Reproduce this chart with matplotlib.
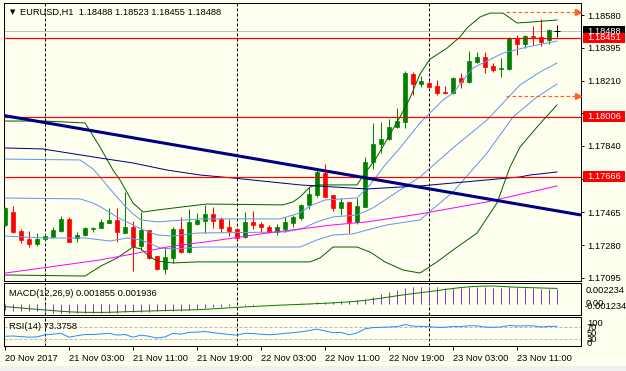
import numpy as np
import matplotlib
matplotlib.use("Agg")
import matplotlib.pyplot as plt
import matplotlib.transforms as mtransforms
from matplotlib.patches import Rectangle

# ---- candles (bar index 0 = 20 Nov 19:00, H1) ----
opens = [1.17394, 1.17467, 1.17360, 1.17315, 1.17286, 1.17315, 1.17326, 1.17360, 1.17428, 1.17320,
         1.17337, 1.17371, 1.17377, 1.17405, 1.17422, 1.17348, 1.17382, 1.17275, 1.17365, 1.17218,
         1.17145, 1.17207, 1.17371, 1.17241, 1.17399, 1.17416, 1.17456, 1.17428, 1.17382, 1.17371,
         1.17326, 1.17411, 1.17399, 1.17382, 1.17354, 1.17371, 1.17405, 1.17433, 1.17507, 1.17563,
         1.17687, 1.17563, 1.17490, 1.17524, 1.17411, 1.17496, 1.17748, 1.17850, 1.17879, 1.17947,
         1.17976, 1.18247, 1.18191, 1.18197, 1.18180, 1.18146, 1.18140, 1.18225, 1.18202, 1.18315,
         1.18343, 1.18292, 1.18275, 1.18275, 1.18444, 1.18416, 1.18461, 1.18456, 1.18439, 1.18488]
highs = [1.17496, 1.17501, 1.17371, 1.17360, 1.17348, 1.17348, 1.17382, 1.17445, 1.17439, 1.17354,
         1.17382, 1.17382, 1.17428, 1.17490, 1.17490, 1.17580, 1.17416, 1.17467, 1.17365, 1.17218,
         1.17269, 1.17382, 1.17439, 1.17485, 1.17462, 1.17507, 1.17496, 1.17439, 1.17428, 1.17371,
         1.17467, 1.17473, 1.17411, 1.17394, 1.17399, 1.17439, 1.17450, 1.17512, 1.17608, 1.17714,
         1.17736, 1.17563, 1.17546, 1.17524, 1.17546, 1.17778, 1.17970, 1.17976, 1.17992, 1.18055,
         1.18264, 1.18258, 1.18236, 1.18208, 1.18213, 1.18180, 1.18230, 1.18253, 1.18377, 1.18371,
         1.18371, 1.18309, 1.18337, 1.18456, 1.18467, 1.18467, 1.18518, 1.18557, 1.18501, 1.18523]
lows = [1.17388, 1.17348, 1.17292, 1.17269, 1.17275, 1.17309, 1.17326, 1.17354, 1.17298, 1.17298,
        1.17331, 1.17354, 1.17377, 1.17405, 1.17298, 1.17348, 1.17133, 1.17252, 1.17201, 1.17139,
        1.17116, 1.17179, 1.17235, 1.17235, 1.17394, 1.17348, 1.17377, 1.17354, 1.17331, 1.17315,
        1.17320, 1.17371, 1.17354, 1.17348, 1.17337, 1.17354, 1.17382, 1.17422, 1.17485, 1.17552,
        1.17552, 1.17473, 1.17450, 1.17348, 1.17399, 1.17496, 1.17708, 1.17799, 1.17873, 1.17941,
        1.17941, 1.18129, 1.18174, 1.18174, 1.18129, 1.18135, 1.18135, 1.18168, 1.18197, 1.18309,
        1.18253, 1.18258, 1.18230, 1.18269, 1.18354, 1.18393, 1.18410, 1.18405, 1.18416, 1.18455]
closes = [1.17490, 1.17354, 1.17309, 1.17286, 1.17315, 1.17331, 1.17365, 1.17428, 1.17298, 1.17337,
          1.17377, 1.17377, 1.17411, 1.17422, 1.17354, 1.17382, 1.17275, 1.17365, 1.17207, 1.17145,
          1.17213, 1.17371, 1.17241, 1.17411, 1.17422, 1.17456, 1.17416, 1.17377, 1.17360, 1.17320,
          1.17411, 1.17394, 1.17382, 1.17354, 1.17382, 1.17411, 1.17439, 1.17507, 1.17568, 1.17693,
          1.17552, 1.17490, 1.17524, 1.17411, 1.17501, 1.17752, 1.17850, 1.17879, 1.17947, 1.17981,
          1.18253, 1.18191, 1.18208, 1.18174, 1.18140, 1.18140, 1.18225, 1.18202, 1.18320, 1.18343,
          1.18286, 1.18269, 1.18281, 1.18450, 1.18416, 1.18461, 1.18456, 1.18427, 1.18495, 1.18488]

# ---- indicator lines (bar position, price) ----
bb_up2_x = [0, 5, 10, 11.875, 13.5, 14.375, 16, 17.25, 19, 22.25, 25.25, 34.75, 36, 36.875, 38.125, 39,
            44, 45, 46.25, 47.5, 49.375, 50.625, 51.875, 53.125, 55.25, 56.875, 57.75, 59.375, 60.625,
            62.25, 64, 65.625, 69]
bb_up2_p = [1.17981, 1.17981, 1.17970, 1.17834, 1.17704, 1.17648, 1.17518, 1.17467, 1.17478, 1.17496,
            1.17512, 1.17507, 1.17524, 1.17552, 1.17608, 1.17620, 1.17620, 1.17687, 1.17761, 1.17857,
            1.18004, 1.18111, 1.18247, 1.18331, 1.18393, 1.18456, 1.18507, 1.18569, 1.18591, 1.18591,
            1.18535, 1.18540, 1.18552]
bb_lo2_x = [0, 10, 12, 14, 16, 17, 18, 19, 21, 24, 38.125, 39.375, 41, 44, 45.625, 47.5, 49.75, 51.875,
            54, 56, 59, 61.5, 63.125, 64.375, 66.5, 69]
bb_lo2_p = [1.17111, 1.17105, 1.17162, 1.17207, 1.17269, 1.17258, 1.17218, 1.17190, 1.17179, 1.17185,
            1.17185, 1.17207, 1.17269, 1.17269, 1.17241, 1.17185, 1.17139, 1.17122, 1.17185, 1.17252,
            1.17348, 1.17518, 1.17721, 1.17834, 1.17947, 1.18072]
bb_up1_x = [0, 9.375, 11, 12, 13, 14, 15, 16, 17, 19, 24.375, 34.375, 36.875, 38.125, 40, 44, 45.625,
            47.5, 49.375, 51.875, 54.75, 56, 58.5, 62.25, 65.25, 69]
bb_up1_p = [1.17766, 1.17761, 1.17710, 1.17659, 1.17603, 1.17552, 1.17501, 1.17456, 1.17422, 1.17411,
            1.17428, 1.17428, 1.17462, 1.17501, 1.17535, 1.17546, 1.17620, 1.17732, 1.17829, 1.17970,
            1.18100, 1.18139, 1.18281, 1.18365, 1.18399, 1.18433]
bb_mid_x = [0, 9.375, 11, 12, 13, 14, 15, 16, 17, 18, 19, 21, 24, 35, 37, 39, 41, 44, 46, 49.375,
            51.875, 56, 60.25, 64.375, 66.875, 69]
bb_mid_p = [1.17546, 1.17541, 1.17518, 1.17495, 1.17467, 1.17439, 1.17416, 1.17394, 1.17371, 1.17354,
            1.17337, 1.17331, 1.17348, 1.17354, 1.17371, 1.17411, 1.17439, 1.17450, 1.17490, 1.17591,
            1.17665, 1.17829, 1.17987, 1.18185, 1.18258, 1.18309]
bb_lo1_x = [0, 5, 10, 13.125, 15.25, 17, 19.375, 21, 24.375, 36.875, 39, 41, 43.5, 45.25, 47.75,
            51.875, 56, 60.25, 63.5, 66.5, 69]
bb_lo1_p = [1.17331, 1.17320, 1.17320, 1.17303, 1.17320, 1.17309, 1.17264, 1.17258, 1.17269, 1.17269,
            1.17309, 1.17337, 1.17343, 1.17365, 1.17394, 1.17422, 1.17580, 1.17800, 1.18004, 1.18117,
            1.18190]
ma_navy_x = [0, 4.75, 11.875, 16, 20.25, 24.375, 28.5, 36.875, 45.25, 49.375, 51.875, 64.375, 65.625, 69]
ma_navy_p = [1.17829, 1.17823, 1.17772, 1.17744, 1.17704, 1.17676, 1.17659, 1.17620, 1.17597, 1.17608,
             1.17614, 1.17665, 1.17676, 1.17693]
ma_mag_x = [0, 4.75, 11.875, 16, 20.25, 26.875, 32.75, 36.875, 41, 45.25, 51.875, 60.25, 69]
ma_mag_p = [1.17122, 1.17151, 1.17196, 1.17230, 1.17269, 1.17309, 1.17348, 1.17371, 1.17394, 1.17411,
            1.17456, 1.17524, 1.17614]

# drawn objects
trend_x = [-0.125, 72.0]
trend_p = [1.18012, 1.17450]
red_levels = [1.18451, 1.18006, 1.17666]
bid_price = 1.18488
arrow_levels = [1.18597, 1.18124]
arrow_x = [62.6, 71.4]
separators = [5, 29, 53]

# ---- sub-windows ----
macd_main = [-0.00080, -0.00082, -0.00083, -0.00084, -0.00086, -0.00095, -0.00110, -0.00114, -0.00116, -0.00117,
             -0.00117, -0.00116, -0.00114, -0.00110, -0.00106, -0.00104, -0.00103, -0.00102, -0.00100, -0.00092,
             -0.00088, -0.00085, -0.00083, -0.00078, -0.00060, -0.00055, -0.00040, -0.00035, -0.00030, -0.00015,
             -0.00010, -0.00008, -0.00006, -0.00004, -0.00002, 0.00001, 0.00004, 0.00010, 0.00017, 0.00025,
             0.00028, 0.00029, 0.00033, 0.00038, 0.00045, 0.00065, 0.00090, 0.00120, 0.00150, 0.00170,
             0.00200, 0.00210, 0.00212, 0.00212, 0.00208, 0.00203, 0.00203, 0.00200, 0.00205, 0.00210,
             0.00205, 0.00200, 0.00196, 0.00205, 0.00200, 0.00198, 0.00195, 0.00188, 0.00188, 0.001855]
macd_signal = [-0.00033, -0.00040, -0.00050, -0.00058, -0.00066, -0.00074, -0.00082, -0.00090, -0.00097, -0.00101,
               -0.00103, -0.00104, -0.00104, -0.00103, -0.00100, -0.00096, -0.00093, -0.00090, -0.00087, -0.00084,
               -0.00081, -0.00078, -0.00076, -0.00074, -0.00071, -0.00066, -0.00060, -0.00054, -0.00048, -0.00042,
               -0.00036, -0.00031, -0.00026, -0.00021, -0.00016, -0.00012, -0.00008, -0.00004, 0.00000, 0.00005,
               0.00009, 0.00014, 0.00020, 0.00027, 0.00035, 0.00045, 0.00058, 0.00072, 0.00087, 0.00102,
               0.00116, 0.00129, 0.00141, 0.00153, 0.00166, 0.00180, 0.00193, 0.00204, 0.00213, 0.00219,
               0.00223, 0.00223, 0.00219, 0.00213, 0.00208, 0.00205, 0.00202, 0.00199, 0.00196, 0.001936]
rsi = [40, 41, 39, 37, 38, 45, 47, 50, 37, 42, 46, 46, 48, 50, 44, 46, 37, 44, 40, 34,
       38, 50, 47, 53, 54, 56, 52, 49, 46, 44, 50, 49, 47, 45, 47, 50, 52, 55, 59, 64,
       58, 52, 53, 45, 51, 65, 69, 70, 71, 72, 79, 74, 73, 72, 70, 70, 73, 72, 75, 75,
       71, 70, 71, 76, 74, 75, 75, 71, 73, 73.3758]

# 1.18025 sits under the 1.18006 box, so only its tick mark shows
price_ticks = [1.18580, 1.18395, 1.18210, 1.18025, 1.17840, 1.17655, 1.17465, 1.17280, 1.17095]
price_labels = ['1.18580', '1.18395', '1.18210', '', '1.17840', '1.17655', '1.17465', '1.17280', '1.17095']
time_ticks = [0, 8, 16, 24, 32, 40, 48, 56, 64]
time_labels = ["20 Nov 2017", "21 Nov 03:00", "21 Nov 11:00", "21 Nov 19:00", "22 Nov 03:00",
               "22 Nov 11:00", "22 Nov 19:00", "23 Nov 03:00", "23 Nov 11:00"]

BG = '#FFFFF0'
GREEN = '#008000'
RED = '#FF0000'
BLUE = '#6495ED'
NAVY = '#000080'
FS = 6.7
PX = 0.72  # one pixel in points

W, H = 626, 371
plt.rcParams['font.family'] = ['Liberation Sans', 'DejaVu Sans']
fig = plt.figure(figsize=(W / 100, H / 100), dpi=100)
fig.patch.set_facecolor(BG)


def px_axes(x0, y0, x1, y1):
    a = fig.add_axes([x0 / W, 1 - y1 / H, (x1 - x0) / W, (y1 - y0) / H])
    a.set_facecolor(BG)
    for s in a.spines.values():
        s.set_linewidth(PX)
        s.set_color('black')
    a.set_xlim(-0.125, 72)
    return a


ax = px_axes(4, 3, 581, 281)
ax_macd = px_axes(4, 283, 581, 315)
ax_rsi = px_axes(4, 317, 581, 346)

# ---- main chart ----
ax.set_ylim(1.17077, 1.18648)
o, h, l, c = map(np.array, (opens, highs, lows, closes))
idx = np.arange(len(c))
bottoms = np.minimum(o, c)
heights = np.maximum(np.abs(c - o), 0.00003)
for mask, col in ((c > o, GREEN), (c < o, RED)):
    ax.vlines(idx[mask], l[mask], h[mask], color=col, lw=PX, zorder=3)
    ax.bar(idx[mask], heights[mask], bottom=bottoms[mask], width=0.55, color=col,
           edgecolor=col, lw=0.5, zorder=3)
flat = c == o
ax.vlines(idx[flat], l[flat], h[flat], color='black', lw=PX, zorder=3)
ax.hlines(c[flat], idx[flat] - 0.35, idx[flat] + 0.35, color='black', lw=PX, zorder=3)

for sx in separators:
    for a in (ax, ax_macd, ax_rsi):
        a.axvline(sx, color='black', lw=PX, ls=(0, (3, 2)), zorder=1)

ax.plot(bb_up2_x, bb_up2_p, color='#006400', lw=PX, zorder=4)
ax.plot(bb_lo2_x, bb_lo2_p, color='#006400', lw=PX, zorder=4)
ax.plot(bb_up1_x, bb_up1_p, color=BLUE, lw=PX, zorder=4)
ax.plot(bb_mid_x, bb_mid_p, color=BLUE, lw=PX, zorder=4)
ax.plot(bb_lo1_x, bb_lo1_p, color=BLUE, lw=PX, zorder=4)
ax.plot(ma_navy_x, ma_navy_p, color=NAVY, lw=PX, zorder=4)
ax.plot(ma_mag_x, ma_mag_p, color='#FF00FF', lw=PX, zorder=4)

ax.axhline(bid_price, color='#C0C0C0', lw=PX, zorder=2)
for lv in red_levels:
    ax.axhline(lv, color=RED, lw=PX * 1.2, zorder=5)
ax.plot(trend_x, trend_p, color=NAVY, lw=2.2, zorder=5, solid_capstyle='butt')
for lv in arrow_levels:
    ax.plot(arrow_x, [lv, lv], color='#FF6020', lw=PX * 1.2, ls=(0, (3, 2)), zorder=5)
    ax.plot([arrow_x[1] + 0.25], [lv], marker='>', ms=4.5, color='#FF6020', mec='#FF6020', zorder=5,
            clip_on=False)

ax.set_xticks([])
ax.yaxis.tick_right()
ax.set_yticks(price_ticks)
ax.set_yticklabels(price_labels)
ax.tick_params(axis='y', length=2.2, width=PX, pad=2.6, labelsize=FS, direction='out')

# price label boxes on the right scale
bt = mtransforms.blended_transform_factory(ax.transAxes, ax.transData)
box_w = 42 / 577
box_h = 0.00060
for price, col in ((bid_price, 'black'), (1.18451, RED), (1.18006, RED), (1.17666, RED)):
    ax.add_patch(Rectangle((1.0035, price - box_h / 2), box_w, box_h, transform=bt,
                           facecolor=col, edgecolor='none', clip_on=False, zorder=10))
    ax.text(1.0035 + 4 / 577, price, '%.5f' % price, transform=bt, color='white', fontsize=FS,
            va='center', ha='left', clip_on=False, zorder=11)

fig.text(10 / W, 1 - 12.5 / H, '\u25bc', fontsize=5, family='DejaVu Sans', va='center', ha='left')
fig.text(20 / W, 1 - 12.5 / H, 'EURUSD,H1  1.18488 1.18523 1.18455 1.18488', fontsize=FS,
         va='center', ha='left')

# ---- MACD ----
ax_macd.set_ylim(-0.001365, 0.002606)
ax_macd.vlines(idx, 0, macd_main, color='#9932CC', lw=PX, zorder=3)
ax_macd.plot(idx, macd_signal, color=GREEN, lw=PX, zorder=4)
ax_macd.set_xticks([])
ax_macd.set_yticks([])
fig.text(9 / W, 1 - 293 / H, 'MACD(12,26,9) 0.001855 0.001936', fontsize=FS, va='center', ha='left')
fig.text(586 / W, 1 - 290.5 / H, '0.002234', fontsize=FS, va='center', ha='left')
fig.text(586 / W, 1 - 303 / H, '0.00', fontsize=FS, va='center', ha='left')
fig.text(585 / W, 1 - 306.5 / H, '-0.001234', fontsize=FS, va='center', ha='left')

# ---- RSI ----
ax_rsi.set_ylim(7.7, 104.3)
for lv in (70, 30):
    ax_rsi.axhline(lv, color='#B8B8B8', lw=PX, ls=(0, (3, 2)), zorder=2)
ax_rsi.plot(idx, rsi, color='#1E90FF', lw=PX, zorder=4)
ax_rsi.set_yticks([])
ax_rsi.set_xticks(time_ticks)
ax_rsi.set_xticklabels(time_labels, ha='left')
ax_rsi.tick_params(axis='x', length=3, width=PX, pad=2.5, labelsize=FS)
fig.text(9 / W, 1 - 326.5 / H, 'RSI(14) 73.3758', fontsize=FS, va='center', ha='left')
for txt, yy in (('100', 323.5), ('70', 327), ('50', 333), ('30', 339), ('0', 343)):
    fig.text(587 / W, 1 - yy / H, txt, fontsize=FS, va='center', ha='left')

# window bottom strip
fig.patches.append(Rectangle((0, 0), 1, 5 / H, transform=fig.transFigure, facecolor='#F0F0F0',
                             edgecolor='none'))

fig.savefig('out.png', dpi=100, facecolor=BG)
